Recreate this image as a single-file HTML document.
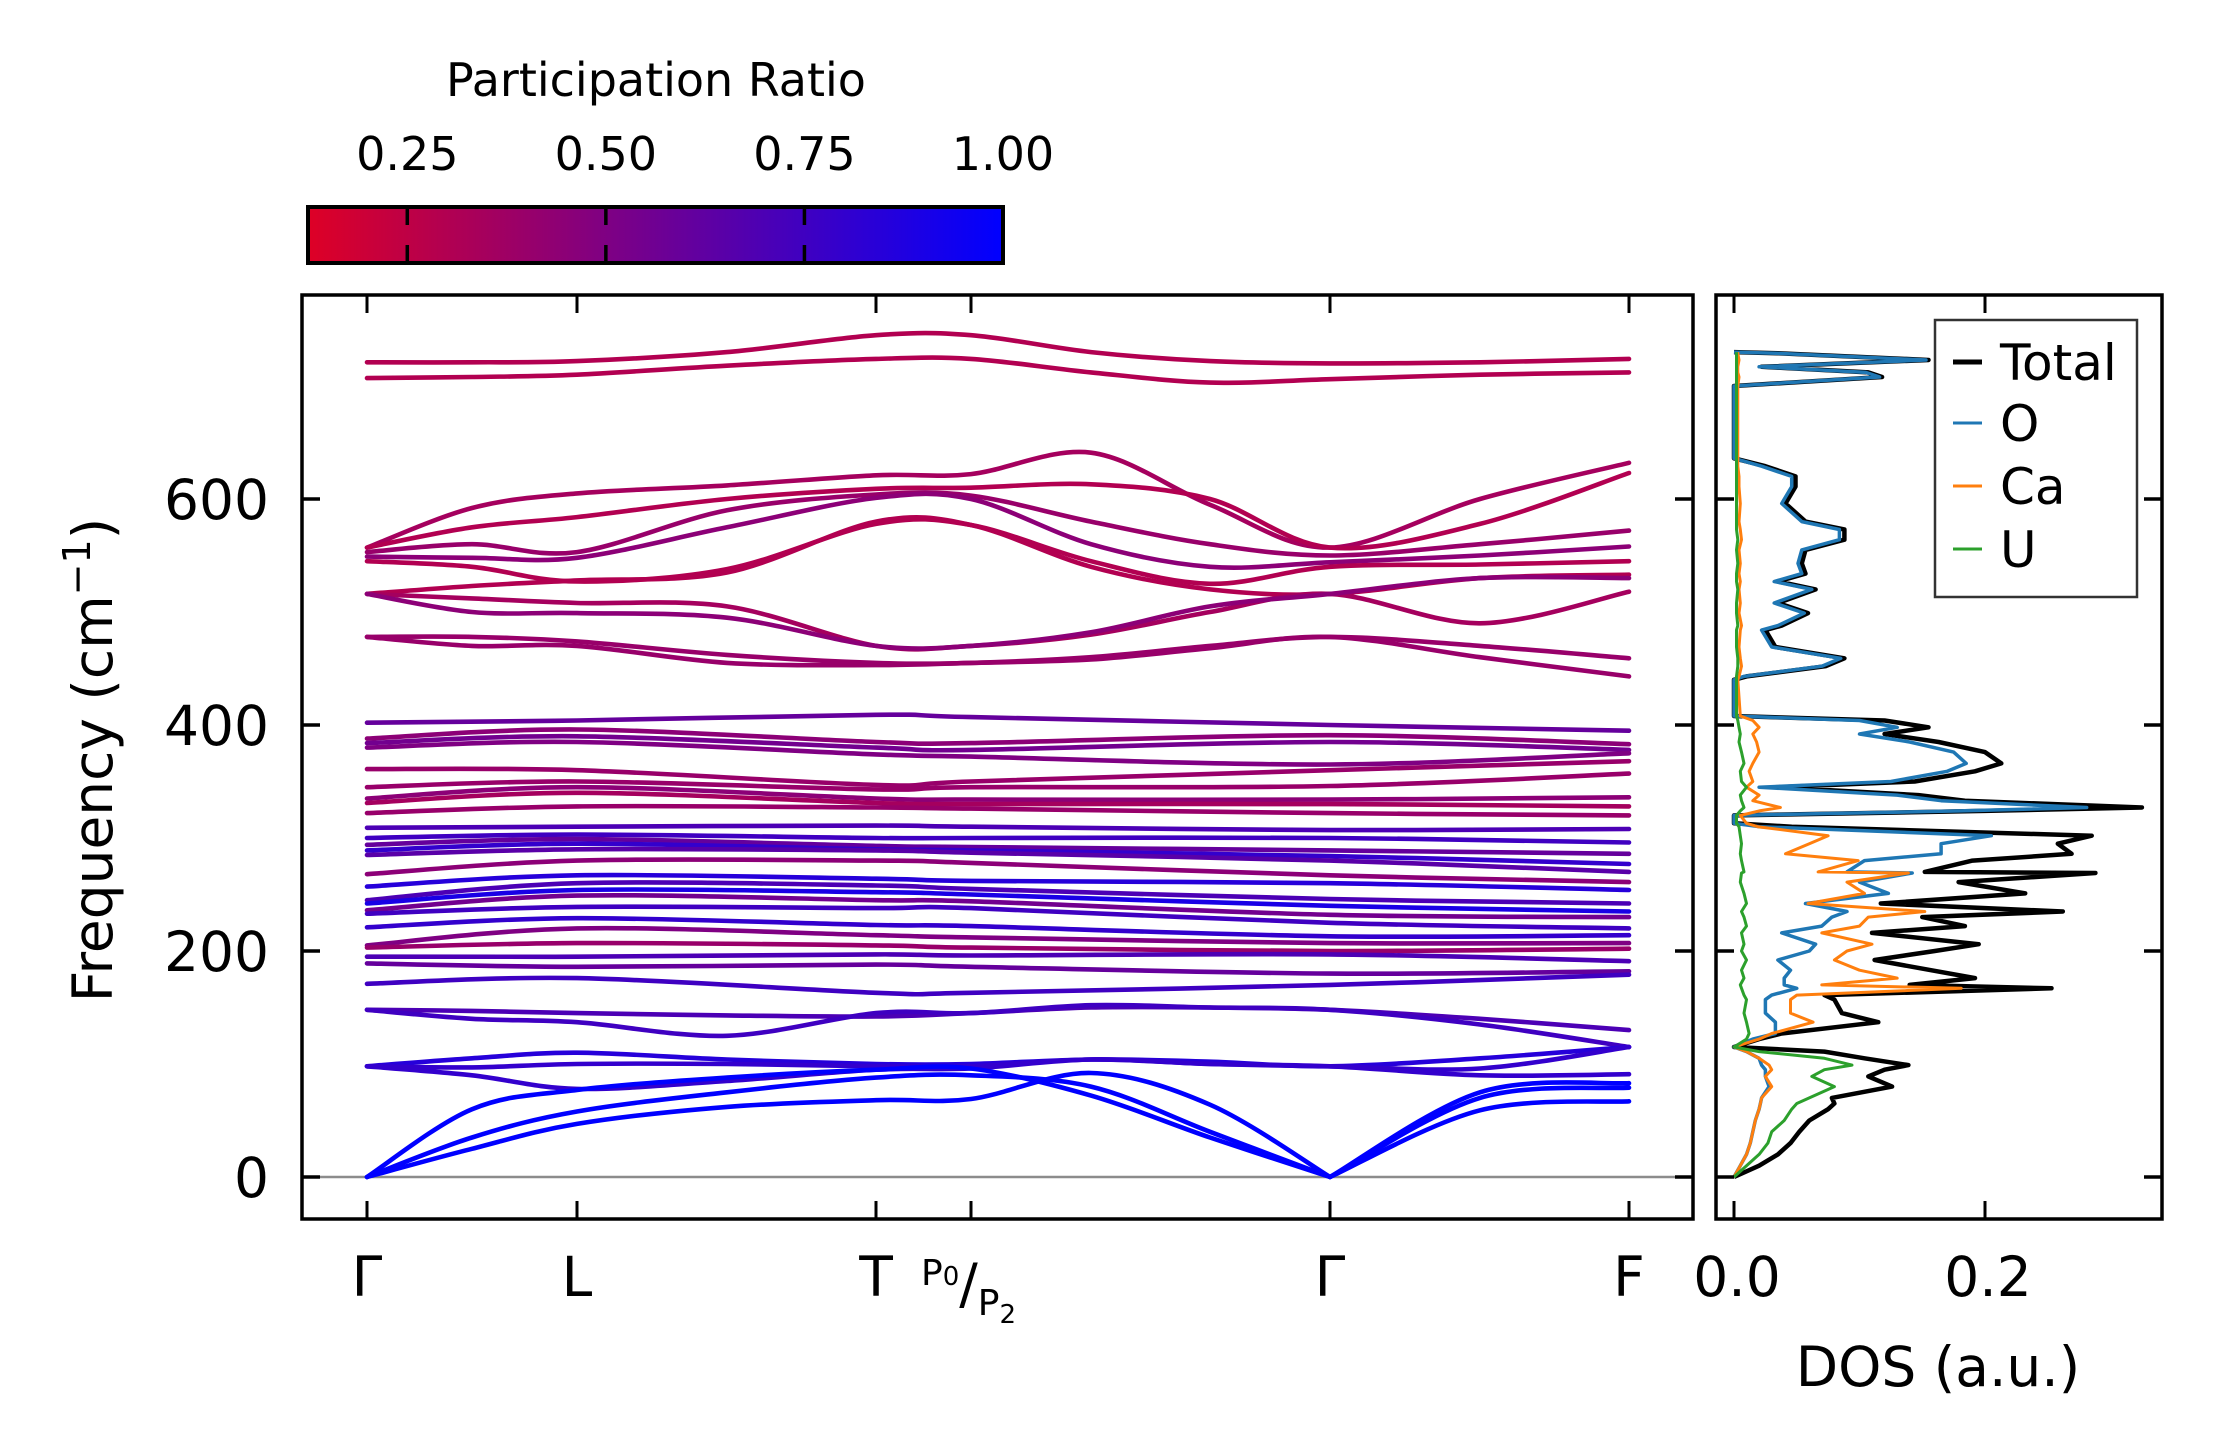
<!DOCTYPE html>
<html><head><meta charset="utf-8"><style>
html,body{margin:0;padding:0;background:#fff;}
svg{display:block;font-family:"DejaVu Sans","Liberation Sans",sans-serif;}
</style></head><body>
<svg id="chart" width="2222" height="1455" viewBox="0 0 2222 1455" xmlns="http://www.w3.org/2000/svg">
<defs>
<linearGradient id="prgrad" x1="0" x2="1" y1="0" y2="0">
<stop offset="0" stop-color="rgb(222,0,38)"/><stop offset="1" stop-color="rgb(0,0,255)"/>
</linearGradient>
<clipPath id="mainclip"><rect x="302" y="295" width="1391" height="924"/></clipPath>
<clipPath id="dosclip"><rect x="1716" y="295" width="446" height="924"/></clipPath>
</defs>
<g>
<text x="656" y="96" font-size="46" text-anchor="middle">Participation Ratio</text>
<rect x="308" y="207" width="695" height="56" fill="url(#prgrad)" stroke="#000" stroke-width="4"/>
<g id="cbticks"></g>
</g>
<g id="bands" clip-path="url(#mainclip)"></g>
<g id="dos" clip-path="url(#dosclip)"></g>
<g id="axes"></g>
<g>
<rect x="1935" y="320" width="202" height="277" fill="#fff" stroke="#333" stroke-width="2.5"/>
<line x1="1953" x2="1982" y1="362" y2="362" stroke="#000" stroke-width="5"/>
<text x="2000" y="380" font-size="50">Total</text>
<line x1="1953" x2="1982" y1="423" y2="423" stroke="#1f77b4" stroke-width="3"/>
<text x="2000" y="441" font-size="50">O</text>
<line x1="1953" x2="1982" y1="486" y2="486" stroke="#ff7f0e" stroke-width="3"/>
<text x="2000" y="504" font-size="50">Ca</text>
<line x1="1953" x2="1982" y1="549" y2="549" stroke="#2ca02c" stroke-width="3"/>
<text x="2000" y="567" font-size="50">U</text>
</g>
<text transform="translate(112,760) rotate(-90)" font-size="55" text-anchor="middle">Frequency (cm<tspan font-size="38" dy="-22">−1</tspan><tspan dy="22">)</tspan></text>
<text x="1938" y="1386" font-size="55" text-anchor="middle">DOS (a.u.)</text>
</svg>
<script>
const NS="http://www.w3.org/2000/svg";
// ---- data ----
const kLabels=["Γ","L","T","P","Γ","F"];
const kTicks=[0,210,509,604,963,1262];
const kFull=[0,105,210,360,509,604,724,843,963,1113,1262];
const kHigh=[0,210,509,604,963,1262];
const yTicks=[0,200,400,600];
const cbTicks=[0.25,0.5,0.75,1.0];
const cbTickLabels=["0.25","0.50","0.75","1.00"];
const dosTicks=[0.0,0.2];
const dosTickLabels=["0.0","0.2"];
// bands on kFull
const topBands=[
[721,721,722,730,745,745,730,722,720,721,724],
[707,708,710,718,724,724,712,703,706,710,712]];
const topPR=[0.3,0.3];
const upperBands=[
[557,592,605,612,621,622,641,595,557,600,632],
[557,575,584,600,609,610,613,600,557,578,623],
[553,560,553,590,604,603,580,560,550,560,572],
[549,548,548,575,601,600,560,540,544,550,558],
[545,540,527,538,578,577,545,525,540,542,545],
[516,523,528,535,580,577,540,520,516,530,533],
[516,512,508,505,470,470,480,500,516,490,518],
[516,500,499,495,470,470,482,505,516,530,530],
[478,478,474,462,455,455,460,470,478,470,459],
[478,470,470,455,453,455,458,468,478,460,443]];
const upperPR=[0.35,0.3,0.4,0.45,0.3,0.3,0.35,0.45,0.4,0.4];
const lowBands=[
[148,147,145,143,142,145,150,150,148,140,130],
[148,140,137,125,145,145,152,150,148,135,115],
[98,105,110,104,100,100,104,102,98,105,115],
[98,97,100,100,98,98,104,100,98,96,115],
[98,90,78,85,95,96,104,100,98,90,91],
[0,25,47,62,68,69,92,64,0,59,67],
[0,35,58,75,88,90,80,40,0,70,79],
[0,60,77,88,95,96,72,35,0,75,83]];
const lowPR=[0.7,0.75,0.85,0.8,0.8,1.0,1.0,1.0];
// bands on kHigh (Γ,L,T,P,Γ,F)
const midBands=[
[402,404,409,407,400,395],[388,396,385,384,391,383],[384,390,380,378,385,378],[380,385,374,372,365,375],
[361,360,347,350,360,368],[345,350,343,345,346,357],[335,345,335,334,334,336],[331,340,331,330,330,328],
[322,328,327,326,322,320],[309,310,311,310,307,308],[300,303,300,300,300,296],[294,299,293,292,289,286],
[289,295,290,289,284,277],[285,290,289,287,280,270],[268,280,280,278,267,261],[257,267,264,262,260,254],
[245,260,258,255,246,242],[242,254,252,250,240,235],[236,249,245,244,232,230],[233,239,238,238,225,220],
[221,229,223,222,213,214],[205,220,214,212,207,207],[203,207,205,203,200,202],[195,195,197,196,197,191],
[189,186,188,186,180,182],[171,176,163,163,170,179]];
const midPR=[0.6,0.45,0.55,0.5,0.4,0.4,0.45,0.35,0.4,0.7,0.75,0.6,0.8,0.65,0.45,0.85,0.7,0.9,0.55,0.75,0.8,0.5,0.4,0.7,0.6,0.75];
// DOS
const dosFreq=[0,10,20,30,40,50,60,65,70,80,89,95,99,105,111,115,122,127,137,145,157,161,167,170,176,183,192,200,206,216,222,230,235,242,251,261,269,270,280,286,295,302,310,313,320,324,327,333,338,345,350,359,366,376,385,392,398,404,408,440,443,452,459,469,484,488,499,508,520,527,534,543,555,564,573,580,596,611,620,629,636,700,708,712,717,723,729,730];
const dosTotal=[0,0.02,0.035,0.045,0.052,0.06,0.075,0.08,0.078,0.126,
0.107,0.12,0.139,0.104,0.072,0,0.02,0.038,0.115,0.086,
0.08,0.072,0.253,0.14,0.192,0.157,0.112,0.16,0.195,0.11,
0.184,0.15,0.262,0.117,0.232,0.179,0.288,0.152,0.19,0.269,
0.258,0.285,0.046,0,0,0.2,0.325,0.184,0.147,0.033,
0.144,0.192,0.213,0.2,0.163,0.12,0.155,0.12,0,0,
0.01,0.073,0.088,0.033,0.025,0.038,0.059,0.035,0.065,0.035,
0.057,0.054,0.057,0.088,0.088,0.057,0.041,0.049,0.049,0.025,
0,0,0.118,0.107,0.022,0.155,0.035,0];
const dosO=[0,0.005,0.01,0.013,0.015,0.017,0.02,0.021,0.022,0.028,
0.025,0.025,0.022,0.02,0.01,0,0.015,0.033,0.033,0.025,
0.025,0.03,0.05,0.04,0.04,0.045,0.035,0.06,0.065,0.038,
0.07,0.078,0.09,0.057,0.123,0.1,0.142,0.09,0.104,0.165,
0.165,0.205,0.02,0,0,0.18,0.281,0.165,0.13,0.02,
0.125,0.17,0.185,0.175,0.14,0.1,0.13,0.1,0,0,
0.008,0.07,0.085,0.03,0.022,0.035,0.056,0.032,0.062,0.032,
0.054,0.051,0.054,0.084,0.084,0.054,0.038,0.046,0.046,0.022,
0,0,0.116,0.105,0.02,0.153,0.033,0];
const dosCa=[0,0.005,0.01,0.013,0.015,0.017,0.02,0.021,0.022,0.03,
0.025,0.03,0.028,0.02,0.01,0,0.02,0.03,0.063,0.045,
0.045,0.05,0.181,0.07,0.13,0.1,0.08,0.09,0.11,0.07,
0.1,0.107,0.152,0.059,0.104,0.09,0.139,0.067,0.099,0.041,
0.06,0.075,0.019,0.01,0.005,0.02,0.037,0.015,0.02,0.01,
0.015,0.012,0.015,0.02,0.018,0.015,0.02,0.015,0.005,0.003,
0.004,0.006,0.005,0.004,0.005,0.006,0.004,0.005,0.004,0.005,
0.004,0.005,0.004,0.006,0.005,0.004,0.005,0.004,0.004,0.003,
0.003,0.003,0.004,0.003,0.003,0.004,0.003,0.003];
const dosU=[0,0.01,0.02,0.027,0.03,0.04,0.046,0.05,0.06,0.08,
0.062,0.072,0.094,0.072,0.02,0,0.01,0.012,0.01,0.008,
0.01,0.008,0.006,0.005,0.008,0.006,0.01,0.006,0.008,0.006,
0.01,0.008,0.006,0.01,0.008,0.005,0.006,0.008,0.006,0.005,
0.006,0.005,0.004,0.002,0.002,0.005,0.008,0.006,0.005,0.01,
0.006,0.005,0.008,0.006,0.004,0.005,0.004,0.003,0.002,0.002,
0.002,0.003,0.003,0.002,0.002,0.003,0.002,0.002,0.003,0.002,
0.002,0.003,0.002,0.003,0.002,0.002,0.002,0.002,0.002,0.002,
0.002,0.002,0.002,0.002,0.002,0.002,0.002,0.002];
// ---- scales ----
const kx=k=>367+k*(1629-367)/1262;
const fy=f=>1177-f*1.13;
const dx=v=>1734+v*1255;
const cbx=v=>308+(v-0.125)/0.875*695;
function prColor(p){const t=Math.max(0,Math.min(1,(p-0.125)/0.875));
 return `rgb(${Math.round(222*(1-t))},0,${Math.round(38+217*t)})`;}
function mk(tag,attrs,parent){const e=document.createElementNS(NS,tag);for(const a in attrs)e.setAttribute(a,attrs[a]);parent.appendChild(e);return e;}
function splineSeg(pts){let d=`M${pts[0][0].toFixed(1)},${pts[0][1].toFixed(1)}`;
 for(let i=0;i<pts.length-1;i++){const p0=pts[Math.max(0,i-1)],p1=pts[i],p2=pts[i+1],p3=pts[Math.min(pts.length-1,i+2)];
  const c1=[p1[0]+(p2[0]-p0[0])/6,p1[1]+(p2[1]-p0[1])/6],c2=[p2[0]-(p3[0]-p1[0])/6,p2[1]-(p3[1]-p1[1])/6];
  c1[0]=Math.min(Math.max(c1[0],p1[0]),p2[0]);c2[0]=Math.min(Math.max(c2[0],p1[0]),p2[0]);
  d+=`C${c1[0].toFixed(1)},${c1[1].toFixed(1)} ${c2[0].toFixed(1)},${c2[1].toFixed(1)} ${p2[0].toFixed(1)},${p2[1].toFixed(1)}`;}
 return d;}
// split at interior zero-frequency points (acoustic cusps)
function spline(pts,vals){let d='',start=0;
 for(let i=1;i<pts.length-1;i++){if(vals[i]===0){d+=splineSeg(pts.slice(start,i+1));start=i;}}
 d+=splineSeg(pts.slice(start));return d;}
const bands=document.getElementById('bands');
const zl=mk('line',{x1:302,x2:1693,y1:fy(0),y2:fy(0),stroke:'#8c8c8c','stroke-width':2.5},bands);


function drawBands(set,ks,prs,name){set.forEach((b,i)=>{
 const pts=b.map((f,j)=>[kx(ks[j]),fy(f)]);
 const p=mk('path',{d:spline(pts,b),fill:'none',stroke:prColor(prs[i]),'stroke-width':4.6,'stroke-linecap':'round','stroke-linejoin':'round'},bands);
 
 });}
drawBands(midBands,kHigh,midPR,'mid');
drawBands(lowBands,kFull,lowPR,'low');
drawBands(upperBands,kFull,upperPR,'upper');
drawBands(topBands,kFull,topPR,'top');
// DOS
const dosG=document.getElementById('dos');
[[dosTotal,'#000',4.5,'dos-total'],[dosO,'#1f77b4',3.5,'dos-o'],[dosCa,'#ff7f0e',3,'dos-ca'],[dosU,'#2ca02c',3,'dos-u']].forEach(s=>{
 const pts=dosFreq.map((f,i)=>dx(s[0][i]).toFixed(1)+','+fy(f).toFixed(1)).join(' ');
 const pl=mk('polyline',{points:pts,fill:'none',stroke:s[1],'stroke-width':s[2],'stroke-linejoin':'round'},dosG);
 
 });
// axes
const ax=document.getElementById('axes');
const mf=mk('rect',{x:302,y:295,width:1391,height:924,fill:'none',stroke:'#000','stroke-width':3.5},ax);


const df=mk('rect',{x:1716,y:295,width:446,height:924,fill:'none',stroke:'#000','stroke-width':3.5},ax);


yTicks.forEach(v=>{const y=fy(v);
 [[302,320],[1675,1693],[1716,1734],[2144,2162]].forEach(a=>mk('line',{x1:a[0],x2:a[1],y1:y,y2:y,stroke:'#000','stroke-width':3.5},ax));
 const t=mk('text',{x:269,y:y+20,'font-size':55,'text-anchor':'end'},ax);t.textContent=v;
 
 });
kTicks.forEach((k,i)=>{const x=kx(k);
 mk('line',{x1:x,x2:x,y1:1201,y2:1219,stroke:'#000','stroke-width':3},ax);
 mk('line',{x1:x,x2:x,y1:295,y2:313,stroke:'#000','stroke-width':3},ax);
 if(kLabels[i]!=="P"){const t=mk('text',{x:x,y:1296,'font-size':55,'text-anchor':'middle'},ax);t.textContent=kLabels[i];
  
  }});
const pl=mk('text',{x:kx(kTicks[3])-50,y:1285,'font-size':36},ax);


pl.innerHTML='P<tspan font-size="26">0</tspan><tspan font-size="55" dy="18">/</tspan><tspan dy="12">P</tspan><tspan font-size="26" dy="8">2</tspan>';
dosTicks.forEach((v,i)=>{const x=dx(v);
 mk('line',{x1:x,x2:x,y1:1201,y2:1219,stroke:'#000','stroke-width':3},ax);
 mk('line',{x1:x,x2:x,y1:295,y2:313,stroke:'#000','stroke-width':3},ax);
 const t=mk('text',{x:x+3,y:1296,'font-size':55,'text-anchor':'middle'},ax);t.textContent=dosTickLabels[i];
 
 });
const cbt=document.getElementById('cbticks');
cbTicks.forEach((v,i)=>{const x=cbx(v);
 if(v<1){mk('line',{x1:x,x2:x,y1:207,y2:225,stroke:'#000','stroke-width':3.5},cbt);
  mk('line',{x1:x,x2:x,y1:245,y2:263,stroke:'#000','stroke-width':3.5},cbt);}
 const t=mk('text',{x:x,y:170,'font-size':46,'text-anchor':'middle'},cbt);t.textContent=cbTickLabels[i];
 
 });
</script>
</body></html>
